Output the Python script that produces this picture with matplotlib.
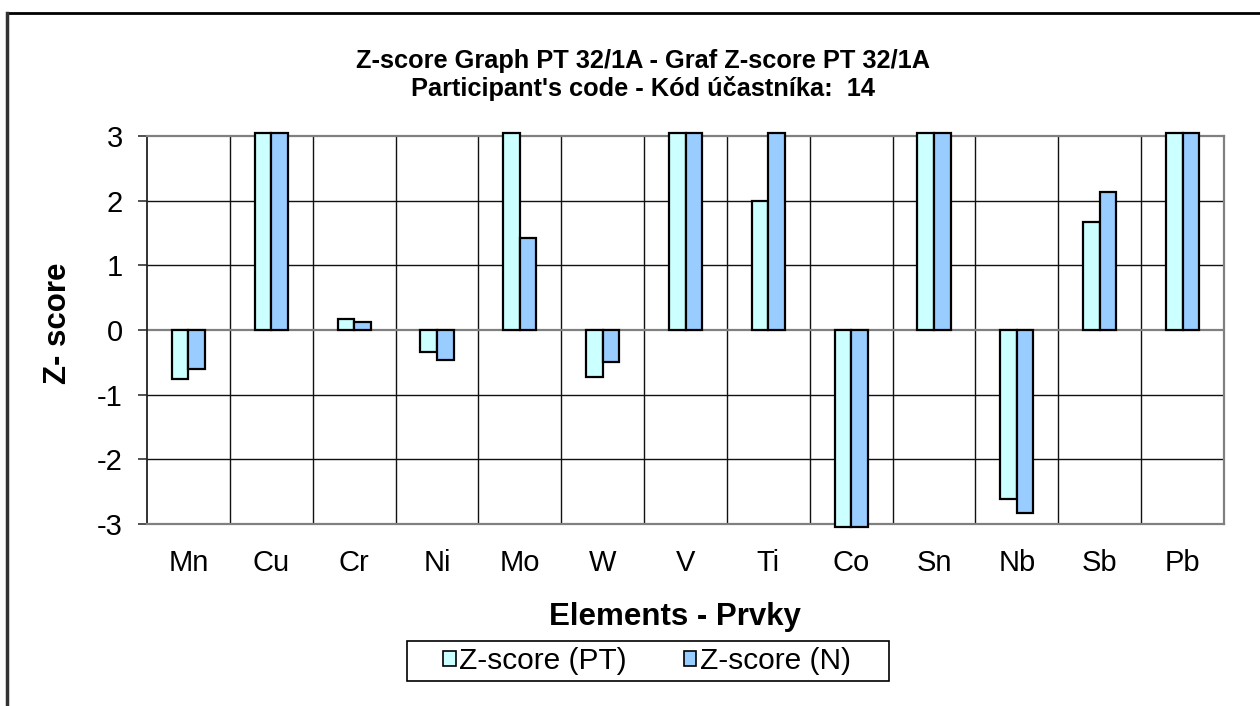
import numpy as np
import matplotlib
matplotlib.use('Agg')
import matplotlib.pyplot as plt
from matplotlib.patches import Patch, Rectangle
from matplotlib.lines import Line2D

# values; bars beyond +/-3 are off scale (shown cut at the axis)
elements = ['Mn', 'Cu', 'Cr', 'Ni', 'Mo', 'W', 'V', 'Ti', 'Co', 'Sn', 'Nb', 'Sb', 'Pb']
z_pt = [-0.75, 5.0, 0.17, -0.34, 5.0, -0.73, 5.0, 2.0, -5.0, 5.0, -2.61, 1.67, 5.0]
z_n = [-0.60, 5.0, 0.13, -0.46, 1.43, -0.50, 5.0, 5.0, -5.0, 5.0, -2.83, 2.14, 5.0]
y_ticks = [3, 2, 1, 0, -1, -2, -3]

title = 'Z-score Graph PT 32/1A - Graf Z-score PT 32/1A\nParticipant\'s code - Kód účastníka:  14'
series_names = ['Z-score (PT)', 'Z-score (N)']
colors = ['#CCFFFF', '#99CCFF']

W, H = 1260, 706


def fx(px):
    return px / W


def fy(py):
    return 1 - py / H


def main():
    plt.rcParams['font.family'] = ['Liberation Sans', 'DejaVu Sans']
    fig = plt.figure(figsize=(12.6, 7.06), dpi=100)
    ax = fig.add_axes([fx(147), fy(524), fx(1224) - fx(147), fy(136) - fy(524)])

    x = np.arange(len(elements))
    bw = 0.2
    lim = 3.05
    for vals, off, col in [(z_pt, -bw / 2, colors[0]), (z_n, bw / 2, colors[1])]:
        v = np.clip(np.array(vals), -lim, lim)
        ax.bar(x + off, v, width=bw, color=col, edgecolor='black', linewidth=1.6,
               clip_on=False, zorder=3)

    ax.set_xlim(-0.5, len(elements) - 0.5)
    ax.set_ylim(-3, 3)

    # grid
    for yv in [-2, -1, 1, 2]:
        ax.axhline(yv, color='#111111', lw=1.0, zorder=1)
    ax.axhline(0, color='#808080', lw=1.6, zorder=2)
    for b in np.arange(len(elements) - 1) + 0.5:
        ax.axvline(b, color='#111111', lw=1.0, zorder=1)

    for s in ['top', 'right', 'bottom']:
        ax.spines[s].set_color('#808080')
        ax.spines[s].set_linewidth(1.6)
    ax.spines['left'].set_color('#222222')
    ax.spines['left'].set_linewidth(1.3)

    ax.set_yticks(y_ticks)
    ax.set_yticklabels([str(t) for t in y_ticks], fontsize=21)
    ax.tick_params(axis='y', direction='out', length=6.5, width=1.2, color='#333333', pad=11)
    ax.set_xticks(x)
    ax.set_xticklabels(elements, fontsize=21)
    ax.tick_params(axis='x', length=0, pad=18)

    fig.text(fx(643), fy(75), title, ha='center', va='center', fontsize=18.3,
             fontweight='bold', linespacing=1.15)
    fig.text(fx(58), fy(323), 'Z- score', rotation=90, ha='center', va='center',
             fontsize=22.5, fontweight='bold')
    fig.text(fx(675), fy(617), 'Elements - Prvky', ha='center', va='center',
             fontsize=22.5, fontweight='bold')

    handles = [Patch(facecolor=c, edgecolor='black', linewidth=1.2) for c in colors]
    fig.legend(handles, series_names, loc='center', bbox_to_anchor=(fx(647), fy(661)),
               ncol=2, frameon=False, fontsize=21.5, handlelength=0.42, handleheight=0.42,
               handletextpad=0.12, columnspacing=1.9, borderpad=0.1)
    fig.add_artist(Rectangle((fx(407), fy(681)), fx(889) - fx(407), fy(641) - fy(681),
                             transform=fig.transFigure, fill=False, edgecolor='black', lw=1.2))

    # chart area border (cut off at right and bottom)
    fig.add_artist(Line2D([fx(7), 1.0], [fy(13), fy(13)], color='black', lw=2))
    fig.add_artist(Line2D([fx(7), fx(7)], [fy(13), 0.0], color='#333333', lw=2.5))

    fig.savefig('out.png', dpi=100, facecolor='white')


if __name__ == '__main__':
    main()
